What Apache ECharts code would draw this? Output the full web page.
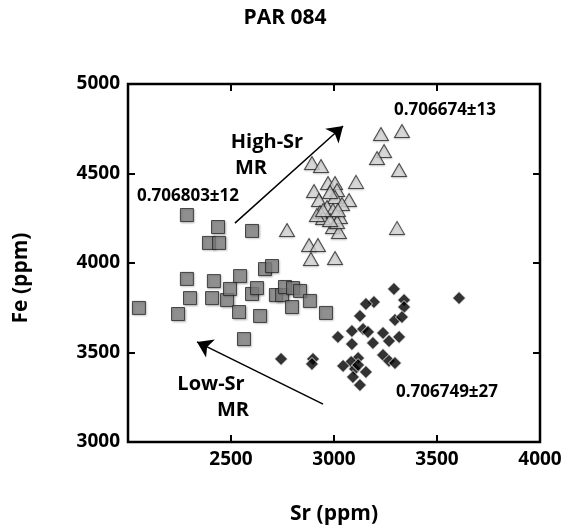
<!DOCTYPE html>
<html>
<head>
<meta charset="utf-8">
<script src="https://cdn.jsdelivr.net/npm/echarts@6/dist/echarts.min.js"></script>
<style>
html,body{margin:0;padding:0;background:#fff;}
#chart{width:576px;height:530px;}
</style>
</head>
<body>
<div id="chart"></div>
<script>
// ---- Data (Sr ppm, Fe ppm) ----
var chartTitle = 'PAR 084';
var xName = 'Sr (ppm)';
var yName = 'Fe (ppm)';
var xTicks = [2000, 2500, 3000, 3500, 4000];
var yTicks = [3000, 3500, 4000, 4500, 5000];

// grey squares (0.706803±12)
var squares = [
  [2053,3749],[2286,4268],[2437,4201],[2602,4179],[2393,4112],[2442,4112],
  [2286,3911],[2417,3899],[2544,3927],[2665,3966],[2699,3983],[2301,3804],
  [2408,3804],[2481,3793],[2495,3855],[2602,3827],[2626,3860],[2718,3821],
  [2748,3821],[2762,3866],[2801,3860],[2835,3844],[2883,3788],[2796,3754],
  [2539,3726],[2641,3704],[2243,3715],[2961,3721],[2563,3575]
];
// light triangles (0.706674±13)
var triangles = [
  [3228,4721],[3330,4737],[3243,4626],[3209,4587],[3316,4520],[2893,4559],
  [2937,4542],[3107,4453],[2971,4447],[3005,4447],[2903,4402],[3015,4408],
  [3073,4352],[2927,4352],[3005,4369],[3039,4330],[2966,4313],[2932,4285],
  [3029,4257],[2947,4251],[2995,4201],[3024,4173],[2772,4184],[3306,4196],
  [2879,4101],[2922,4101],[2888,4022],[3005,4028],[2995,4296],[2917,4268],
  [3015,4229],[2981,4240],[2981,4397],[3019,4296],[2947,4296]
];
// black diamonds (0.706749±27)
var diamonds = [
  [3291,3855],[3607,3804],[3340,3793],[3340,3754],[3194,3782],[3155,3771],
  [3126,3704],[3296,3682],[3330,3698],[3087,3620],[3141,3631],[3165,3615],
  [3019,3587],[3238,3609],[3316,3587],[3267,3564],[3189,3553],[3087,3547],
  [2898,3464],[2893,3436],[3238,3486],[3267,3453],[3296,3441],[3117,3469],
  [3083,3447],[3044,3425],[3102,3408],[3155,3391],[3092,3363],[3126,3318],
  [3117,3430],[2743,3464]
];
// trend arrows: [tail, tip]
var highSrArrow = [[2519,4223],[3044,4765]];
var lowSrArrow = [[2947,3212],[2335,3559]];

var FONT = '"Open Sans", Lato, sans-serif';

var chart = echarts.init(document.getElementById('chart'));

function plain(v) { return String(v); }

function axisDef(pos, min, max, showLabels, extra) {
  var a = {
    type: 'value', position: pos, min: min, max: max, interval: 500,
    axisLine: {show: true, onZero: false, lineStyle: {color: '#6E7079', width: 1, opacity: 0}},
    axisTick: {show: true, inside: true, length: 7, lineStyle: {color: '#000', width: 2, opacity: 1}},
    axisLabel: {show: showLabels, formatter: plain, fontFamily: FONT, fontWeight: 'bold', fontSize: 19, color: '#000'},
    splitLine: {show: false}
  };
  for (var k in extra) a[k] = extra[k];
  return a;
}

var option = {
  animation: false,
  backgroundColor: '#fff',
  title: {
    text: chartTitle,
    left: 280, top: 3, textAlign: 'center',
    textStyle: {fontFamily: FONT, fontWeight: 'bold', fontSize: 21, color: '#000'}
  },
  grid: {left: 128, right: 36, top: 84, bottom: 88, show: true, borderColor: '#000', borderWidth: 2.5, backgroundColor: 'transparent'},
  xAxis: [
    axisDef('bottom', xTicks[0], xTicks[xTicks.length-1], true, {
      name: xName, nameLocation: 'middle', nameGap: 62,
      nameTextStyle: {fontFamily: FONT, fontWeight: 'bold', fontSize: 21, color: '#000'}
    }),
    axisDef('top', xTicks[0], xTicks[xTicks.length-1], false, {})
  ],
  yAxis: [
    axisDef('left', yTicks[0], yTicks[yTicks.length-1], true, {
      name: yName, nameLocation: 'middle', nameGap: 96,
      nameTextStyle: {fontFamily: FONT, fontWeight: 'bold', fontSize: 21, color: '#000', padding: [0, 30, 0, 0]}
    }),
    axisDef('right', yTicks[0], yTicks[yTicks.length-1], false, {})
  ],
  series: [
    {
      name: '0.706803±12', type: 'scatter', data: squares,
      symbol: 'rect', symbolSize: 13,
      itemStyle: {color: '#808080', borderColor: '#262626', borderWidth: 1,
        shadowColor: 'rgba(0,0,0,0.25)', shadowBlur: 2, shadowOffsetX: 1, shadowOffsetY: 1}
    },
    {
      name: '0.706674±13', type: 'scatter', data: triangles,
      symbol: 'triangle', symbolSize: [15, 13],
      itemStyle: {color: '#d9d9d9', borderColor: '#262626', borderWidth: 1,
        shadowColor: 'rgba(0,0,0,0.25)', shadowBlur: 2, shadowOffsetX: 0, shadowOffsetY: 1}
    },
    {
      name: '0.706749±27', type: 'scatter', data: diamonds,
      symbol: 'diamond', symbolSize: [13, 13],
      itemStyle: {color: '#000', borderColor: '#fff', borderWidth: 1}
    },
    {
      name: 'arrows', type: 'scatter', data: [], silent: true,
      markLine: {
        silent: true, animation: false,
        symbol: ['none', 'arrow'], symbolSize: 15,
        label: {show: false},
        emphasis: {disabled: true},
        lineStyle: {color: '#000', width: 1.5, type: 'solid'},
        data: [
          [{coord: highSrArrow[0]}, {coord: highSrArrow[1]}],
          [{coord: lowSrArrow[0]}, {coord: lowSrArrow[1]}]
        ]
      }
    }
  ],
  graphic: [
    {type: 'text', x: 188, y: 196, style: {text: '0.706803±12', fontFamily: FONT, fontWeight: 'bold', fontSize: 17, fill: '#000', align: 'center', verticalAlign: 'middle'}},
    {type: 'text', x: 445, y: 110, style: {text: '0.706674±13', fontFamily: FONT, fontWeight: 'bold', fontSize: 17, fill: '#000', align: 'center', verticalAlign: 'middle'}},
    {type: 'text', x: 447, y: 392, style: {text: '0.706749±27', fontFamily: FONT, fontWeight: 'bold', fontSize: 17, fill: '#000', align: 'center', verticalAlign: 'middle'}},
    {type: 'text', x: 267, y: 142, style: {text: 'High-Sr', fontFamily: FONT, fontWeight: 'bold', fontSize: 20, fill: '#000', align: 'center', verticalAlign: 'middle'}},
    {type: 'text', x: 251, y: 168, style: {text: 'MR', fontFamily: FONT, fontWeight: 'bold', fontSize: 20, fill: '#000', align: 'center', verticalAlign: 'middle'}},
    {type: 'text', x: 211, y: 384, style: {text: 'Low-Sr', fontFamily: FONT, fontWeight: 'bold', fontSize: 20, fill: '#000', align: 'center', verticalAlign: 'middle'}},
    {type: 'text', x: 233, y: 410, style: {text: 'MR', fontFamily: FONT, fontWeight: 'bold', fontSize: 20, fill: '#000', align: 'center', verticalAlign: 'middle'}}
  ]
};
option.xAxis[0].axisLabel.showMinLabel = false;
chart.setOption(option);
</script>
</body>
</html>
